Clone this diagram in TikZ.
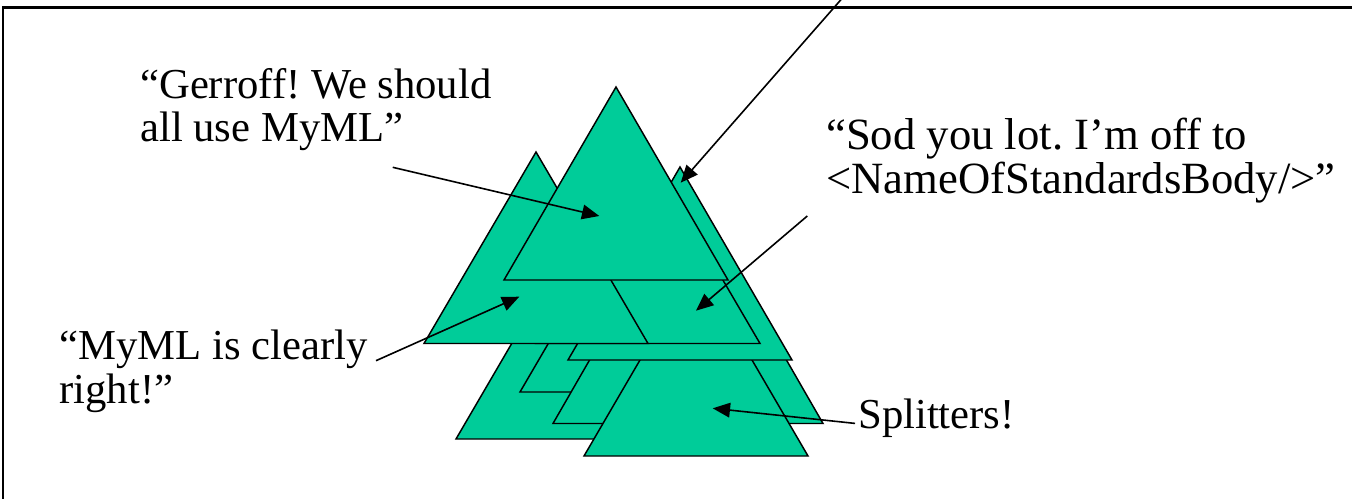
\documentclass[tikz,border=0pt]{standalone}
\usepackage{fontspec}
\setmainfont{Liberation Serif}
\frenchspacing
\usetikzlibrary{arrows.meta}
\definecolor{tri}{RGB}{0,204,153}
\tikzset{
  trishape/.style={fill=tri, draw=black, line width=1.1pt, line join=miter},
  lbl/.style={inner sep=0pt, anchor=base west, align=left, font=\fontsize{32}{32.6}\selectfont},
  arr/.style={draw=black, line width=1.2pt, -{Triangle[length=13pt, width=11pt]}}
}
\begin{document}
\begin{tikzpicture}[x=0.75pt, y=-0.75pt]
\useasboundingbox (0,0) rectangle (1352,499);
\begin{scope}
\clip (0,0) rectangle (1352,499);
% frame
\draw[line width=1.8pt] (3,520) -- (3,7.5) -- (1370,7.5);
% triangles, bottom to top
\path[trishape] (568,247) -- (456,439) -- (680,439) -- cycle; % T5
\path[trishape] (632,200) -- (520,392) -- (744,392) -- cycle; % T6
\path[trishape] (688,189) -- (553,423.5) -- (823,423.5) -- cycle; % T7
\path[trishape] (696,264) -- (584,456) -- (808,456) -- cycle; % T8
\path[trishape] (680,167) -- (568,360) -- (792,360) -- cycle; % T4
\path[trishape] (648,152) -- (536,343.5) -- (760,343.5) -- cycle; % T3
\path[trishape] (536,152) -- (424,343.5) -- (648,343.5) -- cycle; % T2
\path[trishape] (616,87) -- (504,280) -- (728,280) -- cycle; % T1
% labels (anchor = baseline of last line)
\node[lbl] (gerroff) at (140,141.7) {“Gerroff! We should\\all use MyML”};
\node[lbl, font=\fontsize{33.5}{33}\selectfont] (sod) at (826,193.5) {“Sod you lot. I’m off to\\<NameOfStandardsBody/>”};
\node[lbl] (myml) at (59.3,403.3) {“MyML is clearly\\right!”};
\node[lbl] (split) at (858,428) {Splitters!};
% connector ends
\coordinate (topsrc) at (845,-5);
\coordinate (toptip) at (680.7,182.7);
\coordinate (gsrc) at (392.7,167.3);
\coordinate (gtip) at (599.3,216);
\coordinate (ssrc) at (807.3,216);
\coordinate (stip) at (696,310.7);
\coordinate (msrc) at (376,360.7);
\coordinate (mtip) at (519.3,296.7);
\coordinate (spsrc) at (855,423.4);
\coordinate (sptip) at (712.7,408.3);
\draw[arr] (topsrc) -- (toptip);
\draw[arr] (gsrc) -- (gtip);
\draw[arr] (ssrc) -- (stip);
\draw[arr] (msrc) -- (mtip);
\draw[arr] (spsrc) -- (sptip);
\end{scope}
\end{tikzpicture}
\end{document}
